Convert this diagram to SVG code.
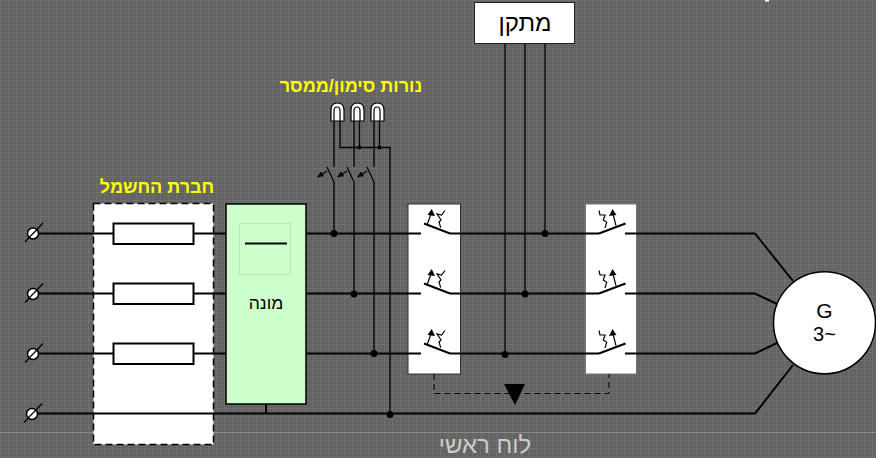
<svg xmlns="http://www.w3.org/2000/svg" width="876" height="458" viewBox="0 0 876 458">
<style>
.w{fill:none;stroke:#000;stroke-width:2}
.t{fill:none;stroke:#000;stroke-width:1.300}
.thin{fill:none;stroke:#000;stroke-width:1.200}
.dot{fill:#000}
.hdr{font-family:"Liberation Sans",sans-serif;font-weight:bold;font-size:18px;fill:#ffff00;text-anchor:middle}
.lbl{font-family:"Liberation Sans",sans-serif;fill:#000;text-anchor:middle}
</style>
<defs>
<pattern id="bg" width="8" height="8" patternUnits="userSpaceOnUse">
<rect width="8" height="8" fill="#5c5c5c"/>
<path d="M0 0H8M0 2H8M0 4H8M0 6H8" stroke="#686868" stroke-width="1" transform="translate(0,.5)"/>
<path d="M0 0V8M2 0V8M4 0V8M6 0V8" stroke="#686868" stroke-width="1" transform="translate(.5,0)"/>
<path d="M0 .5H8M.5 0V8" stroke="#707070" stroke-width="1"/>
</pattern>
<marker id="ah" markerUnits="userSpaceOnUse" markerWidth="8" markerHeight="8" refX="6" refY="3" orient="auto"><path d="M0 0L6 3L0 6Z" fill="#000"/></marker>
<g id="swL">
<path class="thin" d="M424 223.500L450 233.500" style="stroke-width:2"/>
<path class="thin" d="M427 225L431 214"/><path class="dot" d="M431.700 209L435 216L427.500 215Z"/>
<path class="thin" d="M445 210.500L441.500 215L437 214L441 220L439 222L440.700 227.700"/>
</g>
<g id="swR">
<path class="thin" d="M599 233.500L625.500 223.500" style="stroke-width:2"/>
<path class="thin" d="M616 225.700L613 214"/><path class="dot" d="M612.500 209L609 216L616.500 215Z"/>
<path class="thin" d="M599 210.500L600 215L605 215L603.300 220L606.700 222.300L605 228"/>
</g>
<g id="lamp">
<path d="M331 121V110Q331 103 337.500 103Q344 103 344 110V121Z" fill="#fff" stroke="#000" stroke-width="1.200"/>
<path class="thin" d="M334 121V111Q334 107 337 107Q340 107 340 111V121"/>
</g>
<g id="term">
<path class="t" d="M25 242L43 223"/>
<circle cx="33" cy="233.500" r="5.500" fill="#fff" stroke="#000" stroke-width="1.500"/>
<path class="t" d="M29 237.500L37 229.500"/>
</g>
<g id="lsw">
<path class="thin" d="M327 167L334 182"/>
<path class="thin" d="M327 171L317.500 177" marker-end="url(#ah)"/>
</g>
</defs>
<rect id="background" width="876" height="458" fill="url(#bg)"/>
<rect x="0" y="432" width="876" height="1" fill="#8c8c8c"/>
<rect x="765" y="0" width="4" height="1.500" fill="#fff"/>

<g id="power-company">
<rect x="93.500" y="203.500" width="120" height="241" fill="#fff" stroke="#000" stroke-width="1.500" stroke-dasharray="7 4"/>
<text class="hdr" x="157" y="193">חברת החשמל</text>
</g>
<g id="switch-box-1"><rect x="408" y="204" width="52.500" height="170" fill="#fff" stroke="#333" stroke-width="1"/></g>
<g id="switch-box-2"><rect x="585.500" y="204" width="51" height="170" fill="#fff" stroke="#777" stroke-width="1"/></g>

<g id="connectors">
<path class="w" d="M38 233.500H113M194 233.500H226M306 233.500H421M450 233.500H599M625 233.500H755L793 281"/>
<path class="w" d="M38 293.500H113M194 293.500H226M306 293.500H421M450 293.500H599M625 293.500H755L777 304"/>
<path class="w" d="M38 353.500H113M194 353.500H226M306 353.500H421M450 353.500H599M625 353.500H755L777 343"/>
<path class="w" d="M38 413.500H755L793 365"/>
<path class="w" d="M266 404V414"/>
<path class="t" d="M505 44V354M525 44V294M545 44V234"/>
<path class="t" d="M334 121V167M354 121V167M374 121V167"/>
<path class="t" d="M334 182V234M354 182V294M374 182V354"/>
<path class="t" d="M340 121V147.500H390V414M359.500 121V147.500M379.500 121V147.500"/>
<path d="M434 374V393.500H609V374" fill="none" stroke="#000" stroke-width="1" stroke-dasharray="6 4"/>
<circle class="dot" cx="334" cy="233.500" r="3.500"/><circle class="dot" cx="354" cy="294" r="3.500"/><circle class="dot" cx="374" cy="353.500" r="3.500"/><circle class="dot" cx="390" cy="414.500" r="3.500"/>
<circle class="dot" cx="545" cy="233.500" r="3.500"/><circle class="dot" cx="525" cy="294" r="3.500"/><circle class="dot" cx="505" cy="354.500" r="3.500"/>
<circle class="dot" cx="359.500" cy="147.500" r="2"/><circle class="dot" cx="379.500" cy="147.500" r="2"/>
<path class="dot" d="M504 384H525L515 405Z"/>
</g>

<g id="terminals">
<use href="#term"/><use href="#term" y="60.500"/><use href="#term" y="120.500"/><use href="#term" x="-1" y="180.500"/>
</g>
<g id="fuses" fill="#fff" stroke="#000" stroke-width="2">
<rect x="113.500" y="223.500" width="80" height="20.500"/><rect x="113.500" y="283.500" width="80" height="20.500"/><rect x="113.500" y="343.500" width="80" height="20.500"/>
</g>
<g id="meter">
<rect x="226" y="204" width="80" height="200" fill="#ccffcc" stroke="#000" stroke-width="1.500"/>
<rect x="239.500" y="223.500" width="51" height="51" fill="none" stroke="#b8e8b8" stroke-width="1"/>
<path class="w" d="M245 243.500H287"/>
<text class="lbl" x="266" y="309" font-size="17.500">מונה</text>
</g>
<g id="switches-1"><use href="#swL"/><use href="#swL" y="60"/><use href="#swL" y="120"/></g>
<g id="switches-2"><use href="#swR"/><use href="#swR" y="60"/><use href="#swR" y="120"/></g>
<g id="lamps">
<text class="hdr" x="351" y="92">נורות סימון/ממסר</text>
<use href="#lamp"/><use href="#lamp" x="20"/><use href="#lamp" x="40"/>
<use href="#lsw"/><use href="#lsw" x="20"/><use href="#lsw" x="40"/>
</g>
<g id="device">
<rect x="474.500" y="2.500" width="100" height="41" fill="#fff" stroke="#222" stroke-width="1"/>
<text class="lbl" x="525" y="31" font-size="24">מתקן</text>
</g>
<g id="generator">
<circle cx="824.500" cy="322.800" r="51" fill="#fff" stroke="#000" stroke-width="1.500"/>
<text class="lbl" x="824.500" y="317.500" font-size="21">G</text>
<text class="lbl" x="824.500" y="340.500" font-size="20">3~</text>
</g>
<text id="title" x="485" y="453" font-family="'Liberation Sans',sans-serif" font-size="24" fill="#cccccc" text-anchor="middle">לוח ראשי</text>
</svg>
